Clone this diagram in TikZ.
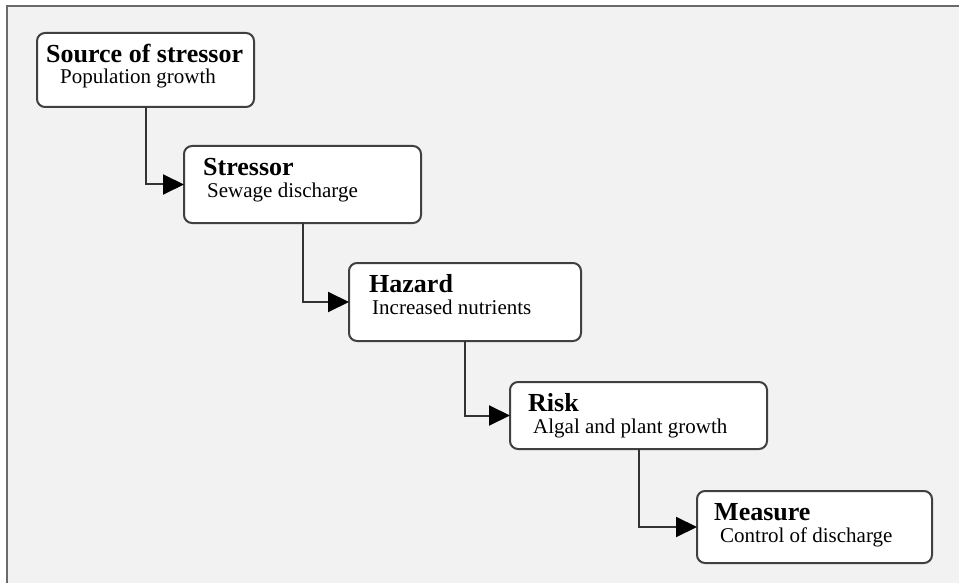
\documentclass[tikz,border=0pt]{standalone}
\usepackage{fontspec}
\setmainfont{Liberation Serif}
\usepackage{tikz}
\usetikzlibrary{calc,arrows.meta}
\definecolor{paneback}{HTML}{F2F2F2}
\definecolor{paneframe}{HTML}{6A6A6A}
\tikzset{
	stage/.style={draw=black!75, line width=2pt, fill=white, rounded corners=8pt, inner sep=0pt, outer sep=0pt},
	head/.style={anchor=base west, inner sep=0pt, font=\fontsize{26}{26}\selectfont\bfseries},
	sub/.style={anchor=base west, inner sep=0pt, font=\fontsize{21}{21}\selectfont},
	link/.style={draw=black!80, line width=2pt, -{Triangle[length=21pt,width=20pt,color=black]}}
}
% name, left, top, right, bottom, title inset, title, subtitle
\newcommand{\stagebox}[8]{
	\node[stage, minimum width={(#4-#2)*1pt}, minimum height={(#5-#3)*1pt}] (#1) at ({(#2+#4)/2},{(#3+#5)/2}) {};
	\node[head] (#1-head) at ($(#1.north west)+(#6,29.5)$) {#7};
	\node[sub] (#1-sub) at ($(#1.north west)+(23,51)$) {#8};
}

\begin{document}
\begin{tikzpicture}[x=1pt,y=-1pt]
	\useasboundingbox[fill=white] (0,0) rectangle (959,583);
	\fill[paneback] (8,7) rectangle (959,583);
	\draw[paneframe, line width=2pt] (7,583) -- (7,6) -- (959,6);
	
	\stagebox{source}{37}{33}{254}{107}{9}{Source of stressor}{Population growth}
	\stagebox{stressor}{184}{146}{421}{223}{19}{Stressor}{Sewage discharge}
	\stagebox{hazard}{349}{263}{581}{341}{20}{Hazard}{Increased nutrients}
	\stagebox{risk}{510}{382}{767}{449}{18}{Risk}{Algal and plant growth}
	\stagebox{measure}{697}{491}{932}{563}{17}{Measure}{Control of discharge}
	
	\foreach \a/\b in {source/stressor,stressor/hazard,hazard/risk,risk/measure} {
		\draw[link] (\a.south) |- (\b.west);
	}
\end{tikzpicture}
\end{document}
